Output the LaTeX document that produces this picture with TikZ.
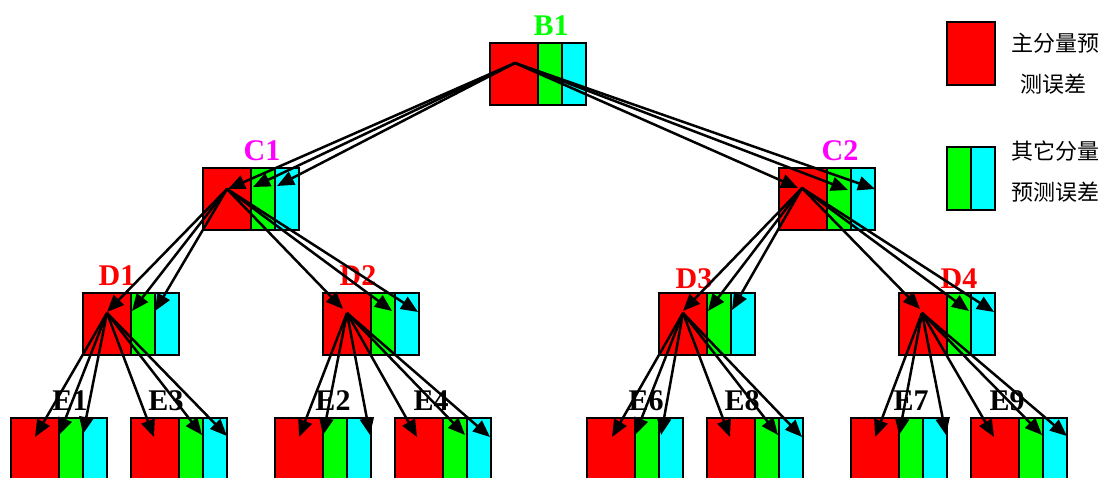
\documentclass[tikz,border=0pt]{standalone}
\usepackage{fontspec}
\setmainfont{Liberation Serif}
\newfontfamily\cjk{Noto Sans CJK SC}
\usetikzlibrary{arrows.meta}
\definecolor{pr}{RGB}{255,0,0}
\definecolor{pg}{RGB}{0,255,0}
\definecolor{pc}{RGB}{0,255,255}
\definecolor{pm}{RGB}{255,0,255}
\newcommand\tribox[3]{%
  \node[redpart] (#1r) at (#2,#3) {};
  \node[grnpart] (#1g) at (#2+48,#3) {};
  \node[cyapart] (#1c) at (#2+72,#3) {};
}
\newcommand\tips[7]{%
  \coordinate (#1tr) at (#2,#3);
  \coordinate (#1tg) at (#4,#5);
  \coordinate (#1tc) at (#6,#7);
}
\newcommand\fanto[2]{%
  \draw[fan] (#1o) -- (#2tr);
  \draw[fan] (#1o) -- (#2tg);
  \draw[fan] (#1o) -- (#2tc);
}
\begin{document}
\begin{tikzpicture}[x=1pt,y=-1pt,
  part/.style={draw=black, line width=2pt, inner sep=0pt, outer sep=0pt, anchor=north west, minimum height=62pt},
  redpart/.style={part, fill=pr, minimum width=48pt},
  grnpart/.style={part, fill=pg, minimum width=24pt},
  cyapart/.style={part, fill=pc, minimum width=24pt},
  lab/.style={font=\fontsize{30}{32}\selectfont\bfseries, anchor=base, inner sep=0pt},
  fan/.style={line width=2.5pt, -{Triangle[length=17pt,width=14pt]}},
  legtext/.style={font=\cjk\fontsize{22}{24}\selectfont, inner sep=0pt}
]
\useasboundingbox[fill=white] (0,0) rectangle (1105,477);

% boxes
\tribox{B1}{490}{43}
\tribox{C1}{203}{168}
\tribox{C2}{779}{168}
\tribox{D1}{83}{293}
\tribox{D2}{323}{293}
\tribox{D3}{659}{293}
\tribox{D4}{899}{293}
\tribox{E1}{11}{418}
\tribox{E3}{131}{418}
\tribox{E2}{275}{418}
\tribox{E4}{395}{418}
\tribox{E6}{587}{418}
\tribox{E8}{707}{418}
\tribox{E7}{851}{418}
\tribox{E9}{971}{418}

% labels
\node[lab, text=pg] (lB1) at (551,35) {B1};
\node[lab, text=pm] (lC1) at (262,160) {C1};
\node[lab, text=pm] (lC2) at (840,160) {C2};
\node[lab, text=pr] (lD1) at (117,285) {D1};
\node[lab, text=pr] (lD2) at (358,285) {D2};
\node[lab, text=pr] (lD3) at (694,288) {D3};
\node[lab, text=pr] (lD4) at (959,288) {D4};
\node[lab] (lE1) at (70,410) {E1};
\node[lab] (lE3) at (166,410) {E3};
\node[lab] (lE2) at (333,410) {E2};
\node[lab] (lE4) at (431,410) {E4};
\node[lab] (lE6) at (646,410) {E6};
\node[lab] (lE8) at (742,410) {E8};
\node[lab] (lE7) at (911,410) {E7};
\node[lab] (lE9) at (1007,410) {E9};

% fan origins
\coordinate (B1o) at (515,63);
\coordinate (C1o) at (227,189);
\coordinate (C2o) at (802,188);
\coordinate (D1o) at (107,313);
\coordinate (D2o) at (347,313);
\coordinate (D3o) at (683,313);
\coordinate (D4o) at (922,313);

% arrow targets
\tips{C1}{228}{189}{253}{187}{277}{186}
\tips{C2}{798}{188}{848}{190}{875}{189}
\tips{D1}{107}{312}{132}{311}{155}{311}
\tips{D2}{343}{309}{392}{311}{418}{312}
\tips{D3}{683}{311}{708}{311}{732}{310}
\tips{D4}{920}{309}{969}{311}{994}{312}
\tips{E1}{35}{437}{59}{435}{83}{434}
\tips{E3}{154}{437}{202}{435}{227}{436}
\tips{E2}{299}{437}{323}{435}{370}{435}
\tips{E4}{417}{437}{465}{435}{490}{437}
\tips{E6}{612}{437}{635}{435}{661}{435}
\tips{E8}{730}{437}{778}{435}{802}{437}
\tips{E7}{875}{437}{899}{435}{946}{435}
\tips{E9}{994}{437}{1042}{435}{1067}{436}

% arrows
\fanto{B1}{C1}
\fanto{B1}{C2}
\fanto{C1}{D1}
\fanto{C1}{D2}
\fanto{C2}{D3}
\fanto{C2}{D4}
\fanto{D1}{E1}
\fanto{D1}{E3}
\fanto{D2}{E2}
\fanto{D2}{E4}
\fanto{D3}{E6}
\fanto{D3}{E8}
\fanto{D4}{E7}
\fanto{D4}{E9}

% legend
\node[redpart, minimum height=63pt] (Lr) at (947,22) {};
\node[grnpart, minimum height=63pt] (Lg) at (947,147) {};
\node[cyapart, minimum height=63pt] (Lc) at (971,147) {};
\node[legtext] (L1) at (1055,43) {主分量预};
\node[legtext] (L2) at (1053,84) {测误差};
\node[legtext] (L3) at (1055,151) {其它分量};
\node[legtext] (L4) at (1055,192) {预测误差};
\end{tikzpicture}
\end{document}
